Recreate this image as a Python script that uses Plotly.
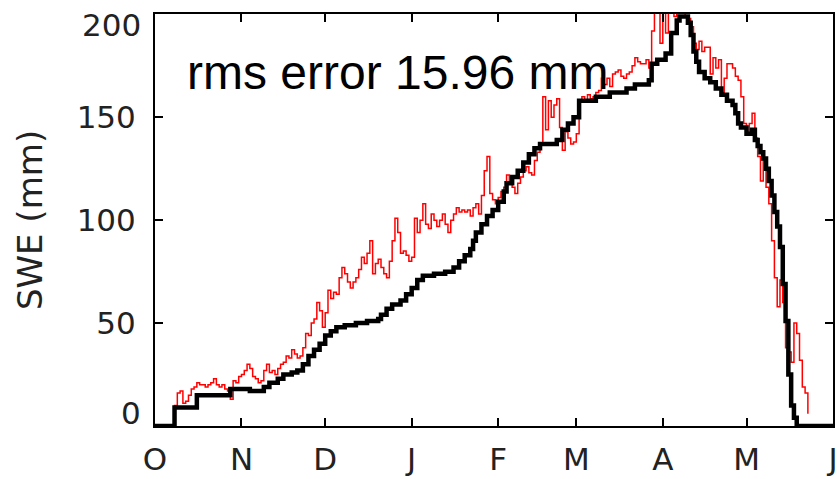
import plotly.graph_objects as go

# x axis: days since 1 October (water-year day)
month_starts = [0, 31, 61, 92, 123, 151, 182, 212, 243]
month_labels = ["O", "N", "D", "J", "F", "M", "A", "M", "J"]
y_ticks = [0, 50, 100, 150, 200]

# observed SWE (black, stepped)
obs_days = [0, 7, 15, 27, 34, 39, 41, 44, 46, 49, 51, 53, 55, 57, 59, 61, 63, 65, 68, 72,
            76, 80, 81, 83, 85, 88, 90, 92, 94, 96, 100, 104, 107, 109, 111, 113, 114, 115,
            117, 119, 121, 123, 125, 126, 128, 130, 132, 134, 136, 138, 144, 146, 148, 150,
            152, 158, 163, 169, 172, 177, 178, 180, 183, 185, 187, 188, 191, 192, 193, 194,
            195, 197, 199, 201, 203, 205, 207, 208, 209, 210, 212, 214, 215, 216, 217, 218,
            219, 220, 221, 222, 223, 224, 225, 226, 227, 228, 229, 230, 243]
obs_swe = [0, 9, 15, 18, 17, 19, 21, 23, 25, 26, 27, 30, 34, 37, 40, 44, 46, 48, 49, 50,
           51, 52, 54, 57, 59, 61, 64, 67, 71, 73, 74, 75, 77, 80, 83, 86, 90, 94,
           98, 102, 105, 109, 114, 118, 121, 124, 128, 132, 135, 137, 139, 144, 147, 150,
           158, 160, 162, 164, 166, 168, 176, 178, 181, 191, 197, 199, 196, 190, 182, 177,
           172, 169, 167, 164, 161, 158, 156, 152, 147, 145, 142, 144, 139, 136, 133, 130,
           125, 119, 112, 104, 97, 87, 69, 51, 25, 10, 4, 0, 0]

# modelled SWE (red, daily)
mod_days = list(range(6, 235))
mod_swe = [
    # Oct (6-30)
    0, 10, 16, 17, 11, 12, 15, 18, 19, 21, 20, 20, 19, 20, 21, 23, 20, 19, 20, 18, 17, 13, 22, 21, 24,
    # Nov (31-60)
    25, 27, 30, 28, 24, 23, 21, 22, 27, 30, 26, 27, 25, 28, 30, 31, 34, 33, 37, 35, 33, 34, 38, 45, 44,
    50, 52, 60, 56, 48,
    # Dec (61-91)
    55, 66, 62, 65, 64, 72, 77, 74, 70, 67, 70, 72, 76, 82, 79, 84, 90, 74, 79, 81, 77, 74, 72, 80, 90,
    101, 94, 84, 85, 83, 80,
    # Jan (92-122)
    82, 101, 94, 100, 108, 98, 96, 103, 100, 97, 100, 103, 98, 94, 100, 103, 106, 104, 105, 104, 105,
    102, 106, 108, 103, 112, 124, 131, 113, 110, 108,
    # Feb (123-150)
    111, 114, 116, 122, 118, 116, 113, 118, 121, 124, 126, 123, 122, 129, 133, 137, 160, 144, 158, 150,
    156, 159, 145, 134, 143, 140, 137, 138,
    # Mar (151-181)
    142, 158, 160, 158, 161, 159, 160, 162, 163, 169, 166, 169, 165, 171, 172, 173, 170, 169, 171, 172,
    175, 179, 177, 176, 176, 178, 174, 192, 203, 204, 186,
    # Apr (182-211)
    203, 191, 204, 205, 199, 204, 203, 204, 199, 198, 194, 186, 183, 187, 182, 184, 184, 171, 179, 174,
    178, 162, 169, 176, 176, 174, 170, 168, 160, 147,
    # May (212-234)
    142, 147, 152, 140, 131, 119, 129, 116, 108, 90, 72, 58, 71, 60, 38, 36, 31, 50, 45, 32, 19, 16, 6,
]

rms_text = "rms error 15.96 mm"

fig = go.Figure()
fig.add_trace(go.Scatter(x=mod_days, y=mod_swe, mode="lines",
                         line=dict(color="#ff0000", width=1.5, shape="hv"),
                         showlegend=False, hoverinfo="skip"))
fig.add_trace(go.Scatter(x=obs_days, y=obs_swe, mode="lines",
                         line=dict(color="black", width=4.5, shape="hv"),
                         showlegend=False, hoverinfo="skip"))

fig.add_annotation(x=87, y=172, xref="x", yref="y", text=rms_text, showarrow=False,
                   xanchor="center", yanchor="middle",
                   font=dict(family="Liberation Sans", size=48, color="black"))

tick_font = dict(family="DejaVu Sans", size=31, color="#222222")

# end y labels sit inside the frame height (as in the original), so draw them as text there
y_top = max(y_ticks)
y_bot = min(y_ticks)
y_ticktext = [str(v) if v not in (y_top, y_bot) else "" for v in y_ticks]
fig.add_annotation(x=0, xref="paper", y=y_top, yref="y", text=str(y_top), showarrow=False,
                   xanchor="right", yanchor="top", xshift=-12, yshift=9,
                   font=tick_font)
fig.add_annotation(x=0, xref="paper", y=y_bot, yref="y", text=str(y_bot), showarrow=False,
                   xanchor="right", yanchor="bottom", xshift=-12, yshift=-7,
                   font=tick_font)

fig.update_xaxes(range=[0, 243], tickvals=month_starts, ticktext=month_labels,
                 ticks="inside", ticklen=8, tickwidth=2, tickcolor="black",
                 showline=True, linewidth=2, linecolor="black", mirror="ticks",
                 showgrid=False, zeroline=False, tickfont=tick_font,
                 ticklabelstandoff=5, automargin=False, ticklabeloverflow="allow")
fig.update_yaxes(range=[0, 200.2], tickvals=y_ticks, ticktext=y_ticktext,
                 ticks="inside", ticklen=8, tickwidth=2, tickcolor="black",
                 showline=True, linewidth=2, linecolor="black", mirror="ticks",
                 showgrid=False, zeroline=False, tickfont=tick_font,
                 ticklabelstandoff=11, automargin=False, ticklabeloverflow="allow",
                 title=dict(text="SWE (mm)", font=dict(family="DejaVu Sans", size=34, color="#222222"),
                            standoff=24))
fig.update_layout(width=839, height=479, margin=dict(l=155, r=6, t=14, b=53),
                  paper_bgcolor="white", plot_bgcolor="white")

fig.write_html("out.html")
